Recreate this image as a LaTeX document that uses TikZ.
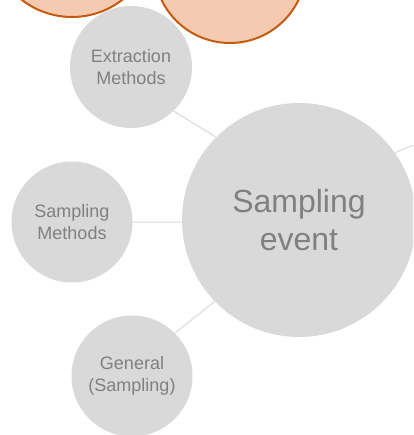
\documentclass[tikz,border=0pt]{standalone}
\usepackage{fontspec}
\setmainfont{Liberation Sans}
\definecolor{bubble}{HTML}{D9D9D9}
\definecolor{bubbletext}{HTML}{808080}
\definecolor{orangefill}{HTML}{F4CBB0}
\definecolor{orangeline}{HTML}{C55A11}
\begin{document}
\begin{tikzpicture}[x=1pt,y=-1pt,
  bub/.style={circle,fill=bubble,inner sep=0pt,text=bubbletext,align=center,
    font=\fontsize{18}{21.6}\selectfont},
  hub/.style={bub,font=\fontsize{32}{38}\selectfont},
  obub/.style={circle,fill=orangefill,draw=orangeline,line width=2pt,inner sep=0pt},
  link/.style={draw=bubble,line width=1pt}]
\useasboundingbox (0,0) rectangle (413,435);
\clip (0,0) rectangle (413,435);
\node[obub,minimum size=164pt] (o1) at (72,-65) {};
\node[obub,minimum size=152pt] (o2) at (230,-33) {};
\node[hub,minimum size=234pt] (se) at (299,220) {Sampling\\event};
\node[bub,minimum size=122pt] (em) at (131,67) {Extraction\\Methods};
\node[bub,minimum size=121pt] (sm) at (72,222) {Sampling\\Methods};
\node[bub,minimum size=121pt] (gs) at (132,376) {General\\(Sampling)};
\coordinate (off) at (432,137);
\draw[link] (em.-46) -- (se.135);
\draw[link] (sm.0) -- (se.181);
\draw[link] (gs.45) -- (se.-136);
\draw[link] (se.35.5) -- (off);
\end{tikzpicture}
\end{document}
